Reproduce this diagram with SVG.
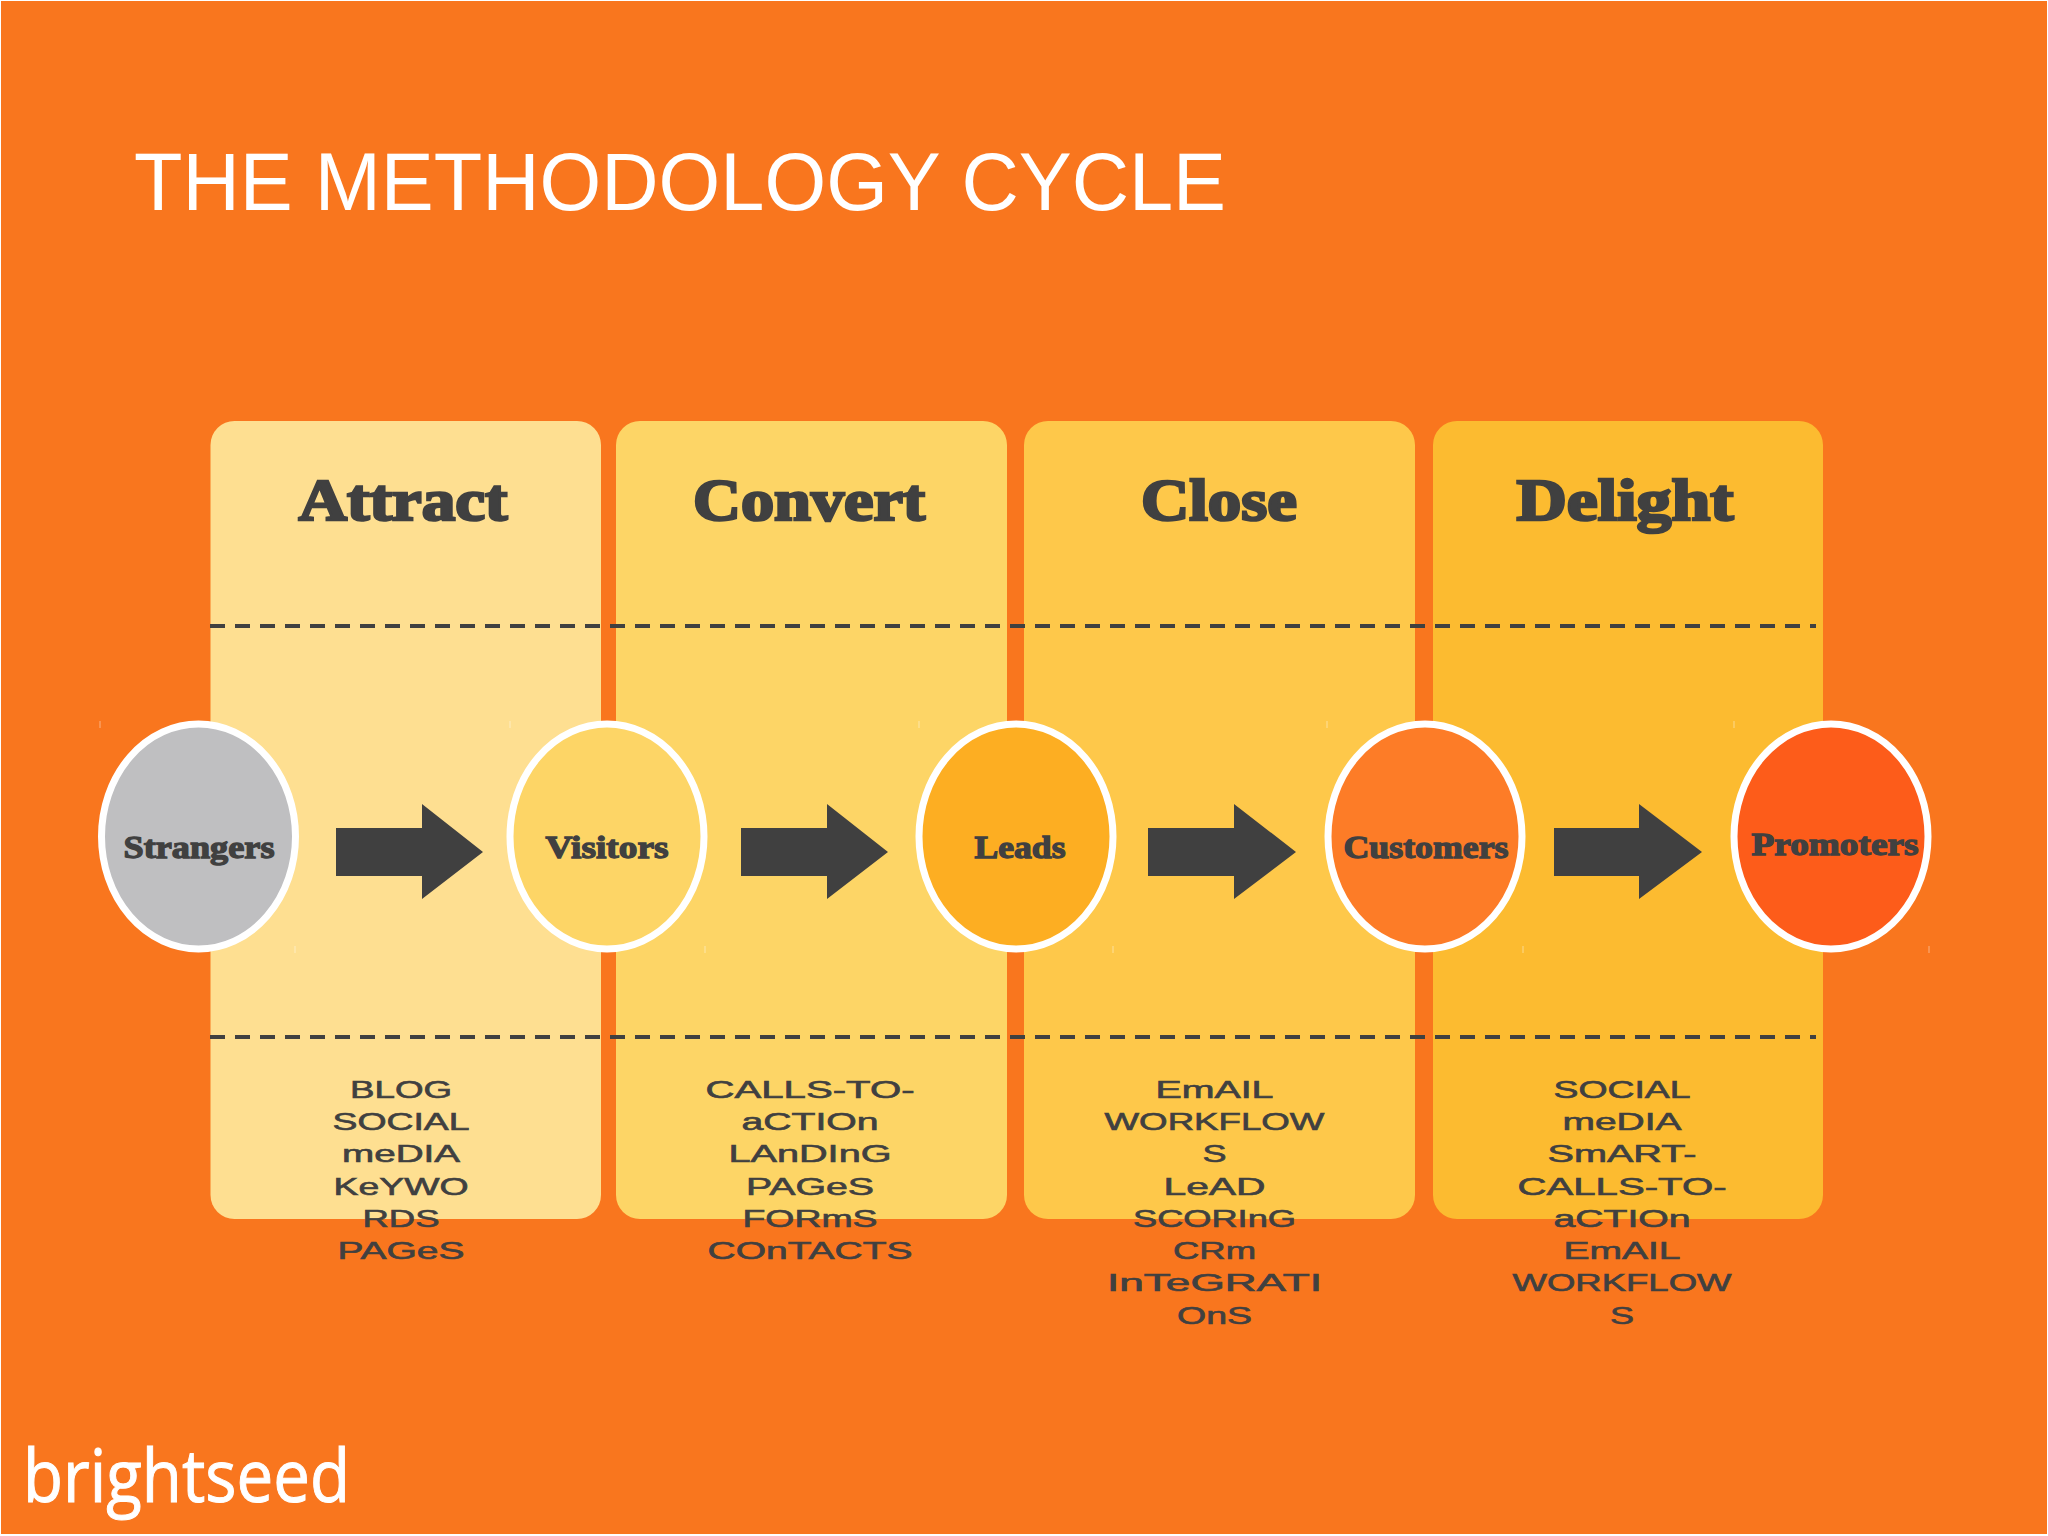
<svg xmlns="http://www.w3.org/2000/svg" width="2048" height="1536" viewBox="0 0 2048 1536">
<style>
.panel{stroke:none}
.head{font-family:"Liberation Serif",serif;font-weight:700;font-size:60px;fill:#404040;stroke:#404040;stroke-width:2.6px;text-anchor:middle}
.lab{font-family:"Liberation Serif",serif;font-weight:700;font-size:32px;fill:#404040;stroke:#404040;stroke-width:1.3px;text-anchor:middle}
.item{font-family:"Liberation Sans",sans-serif;font-size:23px;fill:#404040;stroke:#404040;stroke-width:.6px;text-anchor:middle}
.node{stroke:#fff;stroke-width:7}
.dash{fill:none;stroke:#404040;stroke-width:4;stroke-dasharray:15 10}
.arrow{fill:#404040}
.tick{fill:none;stroke:#fff;stroke-width:1;opacity:.45}
</style>
<rect width="2048" height="1536" fill="#fff"/>
<rect id="background" x="1" y="1" width="2046" height="1533" fill="#F9761E"/>
<text id="title" x="134" y="210" textLength="1092" lengthAdjust="spacingAndGlyphs" font-family="'Liberation Sans',sans-serif" font-size="81" fill="#fff">THE METHODOLOGY CYCLE</text>

<g id="stage-attract">
<rect class="panel" x="210.500" y="421" width="390.500" height="798" rx="24" fill="#FEDF91"/>
<text class="head" x="403" y="520" textLength="209" lengthAdjust="spacingAndGlyphs">Attract</text>
<g>
<text class="item" x="401" y="1098" textLength="102" lengthAdjust="spacingAndGlyphs">BLOG</text>
<text class="item" x="401" y="1130" textLength="137" lengthAdjust="spacingAndGlyphs">SOCIAL</text>
<text class="item" x="401" y="1162" textLength="118" lengthAdjust="spacingAndGlyphs">meDIA</text>
<text class="item" x="401" y="1195" textLength="135" lengthAdjust="spacingAndGlyphs">KeYWO</text>
<text class="item" x="401" y="1227" textLength="77" lengthAdjust="spacingAndGlyphs">RDS</text>
<text class="item" x="401" y="1259" textLength="127" lengthAdjust="spacingAndGlyphs">PAGeS</text>
</g>
</g>

<g id="stage-convert">
<rect class="panel" x="616" y="421" width="391" height="798" rx="24" fill="#FDD566"/>
<text class="head" x="809" y="520" textLength="232" lengthAdjust="spacingAndGlyphs">Convert</text>
<g>
<text class="item" x="810" y="1098" textLength="209" lengthAdjust="spacingAndGlyphs">CALLS-TO-</text>
<text class="item" x="810" y="1130" textLength="137" lengthAdjust="spacingAndGlyphs">aCTIOn</text>
<text class="item" x="810" y="1162" textLength="163" lengthAdjust="spacingAndGlyphs">LAnDInG</text>
<text class="item" x="810" y="1195" textLength="128" lengthAdjust="spacingAndGlyphs">PAGeS</text>
<text class="item" x="810" y="1227" textLength="135" lengthAdjust="spacingAndGlyphs">FORmS</text>
<text class="item" x="810" y="1259" textLength="205" lengthAdjust="spacingAndGlyphs">COnTACTS</text>
</g>
</g>

<g id="stage-close">
<rect class="panel" x="1024" y="421" width="391" height="798" rx="24" fill="#FEC84A"/>
<text class="head" x="1219" y="520" textLength="156" lengthAdjust="spacingAndGlyphs">Close</text>
<g>
<text class="item" x="1214.5" y="1098" textLength="118" lengthAdjust="spacingAndGlyphs">EmAIL</text>
<text class="item" x="1214.5" y="1130" textLength="220" lengthAdjust="spacingAndGlyphs">WORKFLOW</text>
<text class="item" x="1214.5" y="1162" textLength="24" lengthAdjust="spacingAndGlyphs">S</text>
<text class="item" x="1214.5" y="1195" textLength="102" lengthAdjust="spacingAndGlyphs">LeAD</text>
<text class="item" x="1214.5" y="1227" textLength="163" lengthAdjust="spacingAndGlyphs">SCORInG</text>
<text class="item" x="1214.5" y="1259" textLength="83" lengthAdjust="spacingAndGlyphs">CRm</text>
<text class="item" x="1214.5" y="1291" textLength="215" lengthAdjust="spacingAndGlyphs">InTeGRATI</text>
<text class="item" x="1214.5" y="1324" textLength="75" lengthAdjust="spacingAndGlyphs">OnS</text>
</g>
</g>

<g id="stage-delight">
<rect class="panel" x="1433" y="421" width="390" height="798" rx="24" fill="#FCBB30"/>
<text class="head" x="1625" y="520" textLength="217" lengthAdjust="spacingAndGlyphs">Delight</text>
<g>
<text class="item" x="1622" y="1098" textLength="137" lengthAdjust="spacingAndGlyphs">SOCIAL</text>
<text class="item" x="1622" y="1130" textLength="119" lengthAdjust="spacingAndGlyphs">meDIA</text>
<text class="item" x="1622" y="1162" textLength="149" lengthAdjust="spacingAndGlyphs">SmART-</text>
<text class="item" x="1622" y="1195" textLength="209" lengthAdjust="spacingAndGlyphs">CALLS-TO-</text>
<text class="item" x="1622" y="1227" textLength="137" lengthAdjust="spacingAndGlyphs">aCTIOn</text>
<text class="item" x="1622" y="1259" textLength="117" lengthAdjust="spacingAndGlyphs">EmAIL</text>
<text class="item" x="1622" y="1291" textLength="219" lengthAdjust="spacingAndGlyphs">WORKFLOW</text>
<text class="item" x="1622" y="1324" textLength="24" lengthAdjust="spacingAndGlyphs">S</text>
</g>
</g>

<g id="dividers">
<path class="dash" d="M210 626H1816"/>
<path class="dash" d="M210 1037H1816"/>
</g>

<path class="tick" d="M100 721v7M510 721v7M919 721v7M1327 721v7M1734 721v7M295 946v7M705 946v7M1113 946v7M1523 946v7M1929 946v7"/>

<g id="connectors">
<path class="arrow" d="M336 828H422V804L483 852L422 899V876H336Z"/>
<path class="arrow" d="M741 828H827V804L888 852L827 899V876H741Z"/>
<path class="arrow" d="M1148 828H1234V804L1296 852L1234 899V876H1148Z"/>
<path class="arrow" d="M1554 828H1639V804L1702 852L1639 899V876H1554Z"/>
</g>

<g id="node-strangers">
<ellipse class="node" cx="198.500" cy="836.500" rx="97" ry="112.500" fill="#BFBFC1"/>
<text class="lab" x="199" y="858" textLength="151" lengthAdjust="spacingAndGlyphs">Strangers</text>
</g>
<g id="node-visitors">
<ellipse class="node" cx="607" cy="836.500" rx="97" ry="112.500" fill="#FDD566"/>
<text class="lab" x="607" y="858" textLength="123" lengthAdjust="spacingAndGlyphs">Visitors</text>
</g>
<g id="node-leads">
<ellipse class="node" cx="1016" cy="836.500" rx="97" ry="112.500" fill="#FDAE22"/>
<text class="lab" x="1020" y="858" textLength="91" lengthAdjust="spacingAndGlyphs">Leads</text>
</g>
<g id="node-customers">
<ellipse class="node" cx="1425" cy="836.500" rx="97" ry="112.500" fill="#FD7C27"/>
<text class="lab" x="1426" y="858" textLength="165" lengthAdjust="spacingAndGlyphs">Customers</text>
</g>
<g id="node-promoters">
<ellipse class="node" cx="1831" cy="836.500" rx="97" ry="112.500" fill="#FD5C1A"/>
<text class="lab" x="1835" y="855" textLength="167" lengthAdjust="spacingAndGlyphs">Promoters</text>
</g>

<text id="logo" x="23" y="1502" textLength="327" lengthAdjust="spacingAndGlyphs" font-family="'Open Sans',sans-serif" font-size="73" fill="#fff" stroke="#fff" stroke-width="1">brightseed</text>
</svg>
